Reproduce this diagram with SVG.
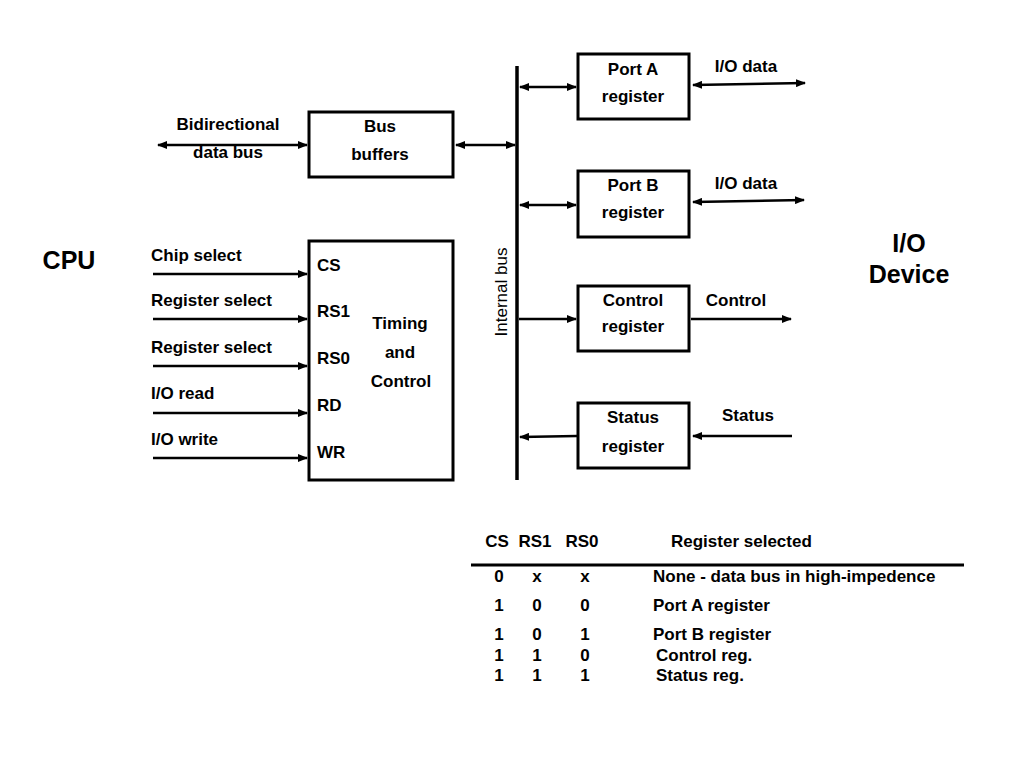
<svg xmlns="http://www.w3.org/2000/svg" width="1024" height="768" viewBox="0 0 1024 768">
<style>
text{font-family:"Liberation Sans",Arial,sans-serif;font-weight:bold;font-size:17px;fill:#000}
.c{text-anchor:middle}
.big{font-size:25px}
.box{fill:#fff;stroke:#000;stroke-width:3}
.ln{stroke:#000;stroke-width:2.5;fill:none}
.bus{stroke:#000;stroke-width:3.5}
</style>
<defs>
<marker id="ah" viewBox="0 0 10 8" refX="9" refY="4" markerWidth="10" markerHeight="8" markerUnits="userSpaceOnUse" orient="auto-start-reverse">
<path d="M0,0 L10,4 L0,8 Z" fill="#000"/>
</marker>
</defs>
<rect width="1024" height="768" fill="#fff"/>

<text class="big c" x="69" y="269">CPU</text>
<text class="big c" x="909" y="252">I/O</text>
<text class="big c" x="909" y="283">Device</text>

<g id="connectors">
<line class="bus" x1="517" y1="66" x2="517" y2="480"/>
<line class="ln" x1="158" y1="145" x2="307" y2="145" marker-start="url(#ah)" marker-end="url(#ah)"/>
<line class="ln" x1="456" y1="145" x2="515" y2="145" marker-start="url(#ah)" marker-end="url(#ah)"/>
<line class="ln" x1="520" y1="87" x2="576" y2="87" marker-start="url(#ah)" marker-end="url(#ah)"/>
<line class="ln" x1="693" y1="85" x2="805" y2="83" marker-start="url(#ah)" marker-end="url(#ah)"/>
<line class="ln" x1="520" y1="205" x2="576" y2="205" marker-start="url(#ah)" marker-end="url(#ah)"/>
<line class="ln" x1="693" y1="202" x2="804" y2="200" marker-start="url(#ah)" marker-end="url(#ah)"/>
<line class="ln" x1="519" y1="319" x2="576" y2="319" marker-end="url(#ah)"/>
<line class="ln" x1="691" y1="319" x2="791" y2="319" marker-end="url(#ah)"/>
<line class="ln" x1="577" y1="436" x2="520" y2="437" marker-end="url(#ah)"/>
<line class="ln" x1="792" y1="436" x2="693" y2="436" marker-end="url(#ah)"/>
<line class="ln" x1="153" y1="274" x2="307" y2="274" marker-end="url(#ah)"/>
<line class="ln" x1="153" y1="319" x2="307" y2="319" marker-end="url(#ah)"/>
<line class="ln" x1="153" y1="366" x2="307" y2="366" marker-end="url(#ah)"/>
<line class="ln" x1="153" y1="413" x2="307" y2="413" marker-end="url(#ah)"/>
<line class="ln" x1="153" y1="458" x2="307" y2="458" marker-end="url(#ah)"/>
</g>

<g id="labels">
<text class="c" x="228" y="130">Bidirectional</text>
<text class="c" x="228" y="158">data bus</text>
<text class="c" x="746" y="72">I/O data</text>
<text class="c" x="746" y="189">I/O data</text>
<text class="c" x="736" y="306">Control</text>
<text class="c" x="748" y="421">Status</text>
<text x="151" y="261">Chip select</text>
<text x="151" y="306">Register select</text>
<text x="151" y="353">Register select</text>
<text x="151" y="399">I/O read</text>
<text x="151" y="445">I/O write</text>
<text class="c" transform="translate(507,292) rotate(-90)" style="font-weight:normal;font-size:17px">Internal bus</text>
</g>

<g id="bus-buffers">
<rect class="box" x="309" y="112" width="144" height="65"/>
<text class="c" x="380" y="132">Bus</text>
<text class="c" x="380" y="160">buffers</text>
</g>

<g id="port-a">
<rect class="box" x="578" y="54" width="111" height="65"/>
<text class="c" x="633" y="75">Port A</text>
<text class="c" x="633" y="102">register</text>
</g>

<g id="port-b">
<rect class="box" x="578" y="171" width="111" height="66"/>
<text class="c" x="633" y="191">Port B</text>
<text class="c" x="633" y="218">register</text>
</g>

<g id="control-reg">
<rect class="box" x="578" y="286" width="111" height="65"/>
<text class="c" x="633" y="306">Control</text>
<text class="c" x="633" y="332">register</text>
</g>

<g id="status-reg">
<rect class="box" x="578" y="403" width="111" height="65"/>
<text class="c" x="633" y="423">Status</text>
<text class="c" x="633" y="452">register</text>
</g>

<g id="timing-control">
<rect class="box" x="309" y="241" width="144" height="239"/>
<text x="317" y="271">CS</text>
<text x="317" y="317">RS1</text>
<text x="317" y="364">RS0</text>
<text x="317" y="411">RD</text>
<text x="317" y="458">WR</text>
<text class="c" x="400" y="329">Timing</text>
<text class="c" x="400" y="358">and</text>
<text class="c" x="401" y="387">Control</text>
</g>

<g id="table">
<text class="c" x="497" y="547">CS</text>
<text class="c" x="535" y="547">RS1</text>
<text class="c" x="582" y="547">RS0</text>
<text x="671" y="547">Register selected</text>
<line x1="471" y1="565" x2="964" y2="565" stroke="#000" stroke-width="3"/>
<text class="c" x="499" y="582">0</text><text class="c" x="537" y="582">x</text><text class="c" x="585" y="582">x</text>
<text x="653" y="582">None - data bus in high-impedence</text>
<text class="c" x="499" y="611">1</text><text class="c" x="537" y="611">0</text><text class="c" x="585" y="611">0</text>
<text x="653" y="611">Port A register</text>
<text class="c" x="499" y="640">1</text><text class="c" x="537" y="640">0</text><text class="c" x="585" y="640">1</text>
<text x="653" y="640">Port B register</text>
<text class="c" x="499" y="661">1</text><text class="c" x="537" y="661">1</text><text class="c" x="585" y="661">0</text>
<text x="656" y="661">Control reg.</text>
<text class="c" x="499" y="681">1</text><text class="c" x="537" y="681">1</text><text class="c" x="585" y="681">1</text>
<text x="656" y="681">Status reg.</text>
</g>
</svg>
